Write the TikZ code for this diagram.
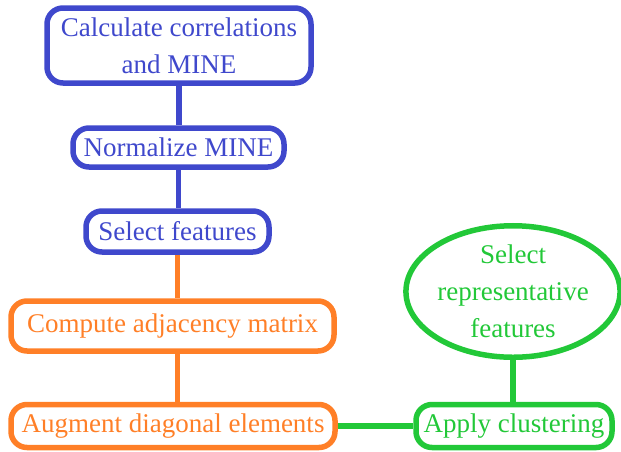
\documentclass[tikz,border=0pt]{standalone}
\usepackage{fontspec}
\newfontfamily\stepfont{LiberationSerif-Regular.ttf}
\usepackage{tikz}
\usetikzlibrary{positioning,shapes.geometric}
\definecolor{stepblue}{RGB}{63,72,204}
\definecolor{steporange}{RGB}{255,127,39}
\definecolor{stepgreen}{RGB}{34,200,56}

\begin{document}
\begin{tikzpicture}[
    x=1pt, y=-1pt,
    box/.style={draw, rectangle, rounded corners=16pt, line width=5.5pt,
        inner sep=0pt, align=center, font=\stepfont\fontsize{27}{37}\selectfont},
    bluebox/.style={box, draw=stepblue, text=stepblue},
    orangebox/.style={box, draw=steporange, text=steporange},
    greenbox/.style={box, draw=stepgreen, text=stepgreen},
    link/.style={line width=5.5pt},
]
\useasboundingbox (0,0) rectangle (621,451);
% correlation stage
\node[bluebox, minimum width=264pt, minimum height=75pt] (calc) at (179,45.5)
    {Calculate correlations\\and MINE};
\node[bluebox, minimum width=211pt, minimum height=39pt] (norm) at (178.5,147.5)
    {Normalize MINE};
\node[bluebox, minimum width=183pt, minimum height=41pt] (sel) at (177.5,231.5)
    {Select features};
% graph stage
\node[orangebox, minimum width=323pt, minimum height=50pt] (adj) at (172.5,326)
    {Compute adjacency matrix};
\node[orangebox, minimum width=324pt, minimum height=43pt] (aug) at (173,426)
    {Augment diagonal elements};
% clustering stage
\node[greenbox, minimum width=196pt, minimum height=43pt] (clus) at (514,426)
    {Apply clustering};
\node[greenbox, ellipse, minimum width=212pt, minimum height=108pt] (rep) at (513,291.5)
    {Select\\representative\\features};

% vertical links keep the x of the upper box
\draw[link, stepblue] (calc.south) -- (calc.south |- norm.north);
\draw[link, stepblue] (norm.south) -- (norm.south |- sel.north);
\draw[link, steporange] (sel.south) -- (sel.south |- adj.north);
\draw[link, steporange] (sel.south |- adj.south) -- (sel.south |- aug.north);
\draw[link, stepgreen] (aug) -- (clus);
\draw[link, stepgreen] (rep.south) -- (rep.south |- clus.north);
\end{tikzpicture}
\end{document}
